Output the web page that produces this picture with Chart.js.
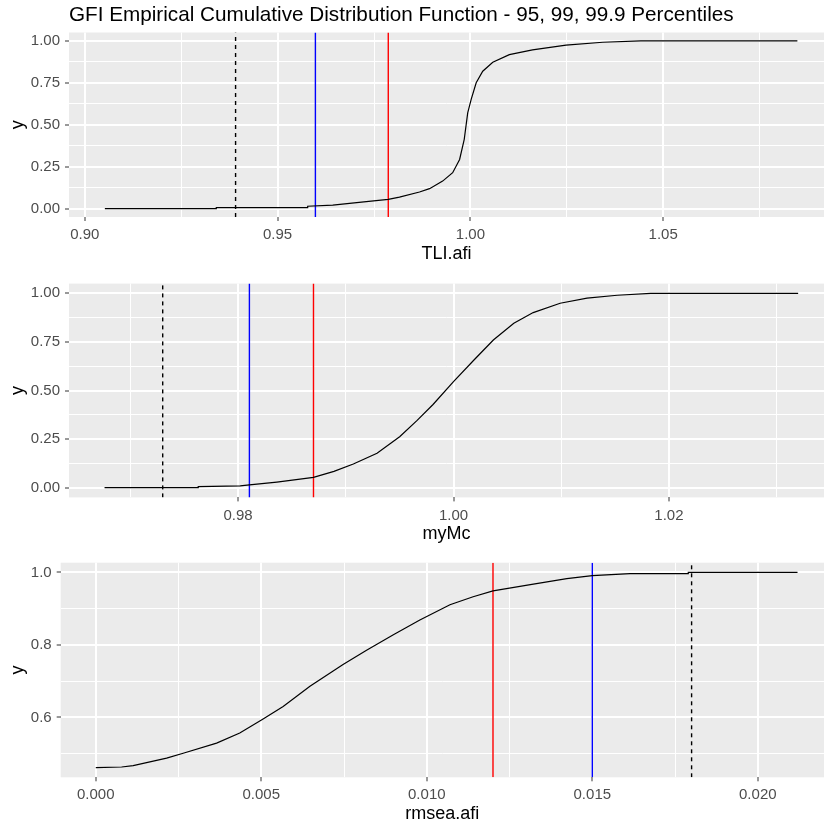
<!DOCTYPE html>
<html>
<head>
<meta charset="utf-8">
<script src="https://cdn.jsdelivr.net/npm/chart.js@4.4.1/dist/chart.umd.min.js"></script>
<style>
  body { margin: 0; background: #fff; width: 824px; height: 827px; overflow: hidden; }
  .panel { position: absolute; left: 0; width: 824px; }
</style>
</head>
<body>
<div class="panel" style="top:0;height:263px"><canvas id="tli"></canvas></div>
<div class="panel" style="top:263px;height:280px"><canvas id="mymc"></canvas></div>
<div class="panel" style="top:543px;height:280px"><canvas id="rmsea"></canvas></div>
<script>
const mainTitle = "GFI Empirical Cumulative Distribution Function - 95, 99, 99.9 Percentiles";

/* TLI.afi ecdf */
const tliX = [0.9052, 0.9341, 0.9341, 0.9578, 0.9578, 0.9643, 0.9730, 0.9787, 0.9816, 0.9868, 0.9894, 0.9928, 0.9954, 0.9972, 0.9984, 0.9993, 1.0002, 1.0015, 1.0032, 1.0058, 1.0101, 1.0161, 1.0248, 1.0343, 1.0442, 1.0848];
const tliY = [0, 0, 0.006, 0.006, 0.014, 0.021, 0.042, 0.055, 0.069, 0.099, 0.119, 0.164, 0.214, 0.293, 0.413, 0.571, 0.651, 0.750, 0.819, 0.873, 0.918, 0.946, 0.975, 0.992, 1.0, 1.0];
const tliCuts = [0.9391, 0.9598, 0.9787];   // 99.9, 99, 95

/* myMc ecdf */
const mcX = [0.9676, 0.9763, 0.9763, 0.9802, 0.98105, 0.9836, 0.9870, 0.9889, 0.9907, 0.9929, 0.9950, 0.9966, 0.9981, 1.0000, 1.0019, 1.0037, 1.0056, 1.0074, 1.0099, 1.0124, 1.0152, 1.0183, 1.0320];
const mcY = [0, 0, 0.005, 0.009, 0.014, 0.029, 0.053, 0.084, 0.122, 0.177, 0.262, 0.345, 0.428, 0.546, 0.657, 0.760, 0.846, 0.901, 0.949, 0.975, 0.990, 1.0, 1.0];
const mcCuts = [0.9730, 0.98105, 0.9870];

/* rmsea.afi ecdf */
const rmX = [0, 0.00078, 0.00113, 0.00214, 0.00264, 0.00365, 0.00435, 0.00503, 0.00566, 0.00647, 0.00747, 0.00818, 0.00899, 0.00979, 0.0107, 0.0114, 0.0120, 0.01322, 0.01423, 0.0150, 0.01614, 0.0179, 0.0179, 0.0212];
const rmY = [0.4615, 0.463, 0.467, 0.4875, 0.501, 0.529, 0.557, 0.594, 0.630, 0.686, 0.746, 0.785, 0.828, 0.869, 0.911, 0.933, 0.949, 0.968, 0.983, 0.991, 0.997, 0.997, 1.0, 1.0];
const rmCuts = [0.0180, 0.0150, 0.0120];

/* ticks */
const tliXMajor = [0.90, 0.95, 1.00, 1.05];
const tliXMinor = [0.925, 0.975, 1.025, 1.075];
const mcXMajor = [0.98, 1.00, 1.02];
const mcXMinor = [0.97, 0.99, 1.01, 1.03];
const rmXMajor = [0, 0.005, 0.010, 0.015, 0.020];
const rmXMinor = [0.0025, 0.0075, 0.0125, 0.0175];
const probMajor = [0, 0.25, 0.5, 0.75, 1.0];
const probMinor = [0.125, 0.375, 0.625, 0.875];
const rmYMajor = [0.6, 0.8, 1.0];
const rmYMinor = [0.5, 0.7, 0.9];

const cutColors = ["#000000", "#0000FF", "#FF0000"];
const FONT = "'Liberation Sans', Arial, sans-serif";

const panelBg = {
  id: "panelBg",
  beforeDraw(chart) {
    const a = chart.chartArea, c = chart.ctx;
    c.save();
    c.fillStyle = "#EBEBEB";
    c.fillRect(a.left, a.top, a.right - a.left, a.bottom - a.top);
    c.restore();
  },
  afterDraw(chart, args, opts) {
    if (!opts.text) return;
    const c = chart.ctx;
    c.save();
    c.font = "20.7px " + FONT;
    c.fillStyle = "#000";
    c.textBaseline = "alphabetic";
    c.fillText(opts.text, chart.chartArea.left, 21);
    c.restore();
  }
};

function tickList(major, minor) {
  return major.map(v => ({ value: v, isMajor: true }))
    .concat(minor.map(v => ({ value: v, isMajor: false })))
    .sort((a, b) => a.value - b.value);
}

function axis(o) {
  return {
    type: "linear",
    min: o.min,
    max: o.max,
    afterBuildTicks: s => { s.ticks = tickList(o.major, o.minor); },
    afterFit: s => { if (o.width) s.width = o.width; if (o.height) s.height = o.height; },
    border: { display: false },
    grid: {
      color: "#FFFFFF",
      lineWidth: c => (c.tick && c.tick.isMajor ? 2 : 1),
      drawTicks: true,
      tickLength: 4,
      tickWidth: 1,
      tickColor: c => (c.tick && c.tick.isMajor ? "#333333" : "rgba(0,0,0,0)")
    },
    ticks: {
      autoSkip: false,
      maxRotation: 0,
      padding: 5,
      color: "#4D4D4D",
      font: { family: FONT, size: 15 },
      callback: (v, i, t) => (t[i].isMajor ? v.toFixed(o.digits) : "")
    },
    title: {
      display: true,
      text: o.title,
      color: "#000",
      font: { family: FONT, size: 18 },
      padding: o.titlePad
    }
  };
}

function makePanel(id, p) {
  const yLo = p.y.min, yHi = p.y.max;
  const datasets = [{
    data: p.xs.map((x, i) => ({ x: x, y: p.ys[i] })),
    borderColor: "#000",
    borderWidth: 1.2,
    pointRadius: 0,
    showLine: true,
    fill: false
  }];
  p.cuts.forEach((v, i) => {
    datasets.push({
      data: [{ x: v, y: yLo }, { x: v, y: yHi }],
      borderColor: cutColors[i],
      borderWidth: 1.4,
      borderDash: i === 0 ? [4, 4] : [],
      pointRadius: 0,
      showLine: true,
      fill: false
    });
  });
  new Chart(document.getElementById(id), {
    type: "scatter",
    data: { datasets },
    options: {
      responsive: true,
      maintainAspectRatio: false,
      animation: false,
      layout: { padding: { top: p.padTop, left: 0, right: 0, bottom: 0 } },
      plugins: {
        legend: { display: false },
        tooltip: { enabled: false },
        panelBg: { text: p.title || "" }
      },
      scales: {
        x: axis(Object.assign({ height: p.xH, titlePad: { top: 0, bottom: -2 } }, p.x)),
        y: axis(Object.assign({ width: p.yW, titlePad: { top: 7, bottom: 0 } }, p.y))
      }
    },
    plugins: [panelBg]
  });
}

makePanel("tli", {
  xs: tliX, ys: tliY, cuts: tliCuts, title: mainTitle,
  padTop: 32.5, xH: 46, yW: 69,
  x: { min: 0.8959, max: 1.0917, major: tliXMajor, minor: tliXMinor, digits: 2, title: "TLI.afi" },
  y: { min: -0.05, max: 1.05, major: probMajor, minor: probMinor, digits: 2, title: "y" }
});

makePanel("mymc", {
  xs: mcX, ys: mcY, cuts: mcCuts,
  padTop: 20.6, xH: 45.6, yW: 69,
  x: { min: 0.9643, max: 1.0344, major: mcXMajor, minor: mcXMinor, digits: 2, title: "myMc" },
  y: { min: -0.05, max: 1.05, major: probMajor, minor: probMinor, digits: 2, title: "y" }
});

makePanel("rmsea", {
  xs: rmX, ys: rmY, cuts: rmCuts,
  padTop: 19.7, xH: 45.7, yW: 60.7,
  x: { min: -0.00106, max: 0.0220, major: rmXMajor, minor: rmXMinor, digits: 3, title: "rmsea.afi" },
  y: { min: 0.4346, max: 1.0269, major: rmYMajor, minor: rmYMinor, digits: 1, title: "y" }
});
</script>
</body>
</html>
